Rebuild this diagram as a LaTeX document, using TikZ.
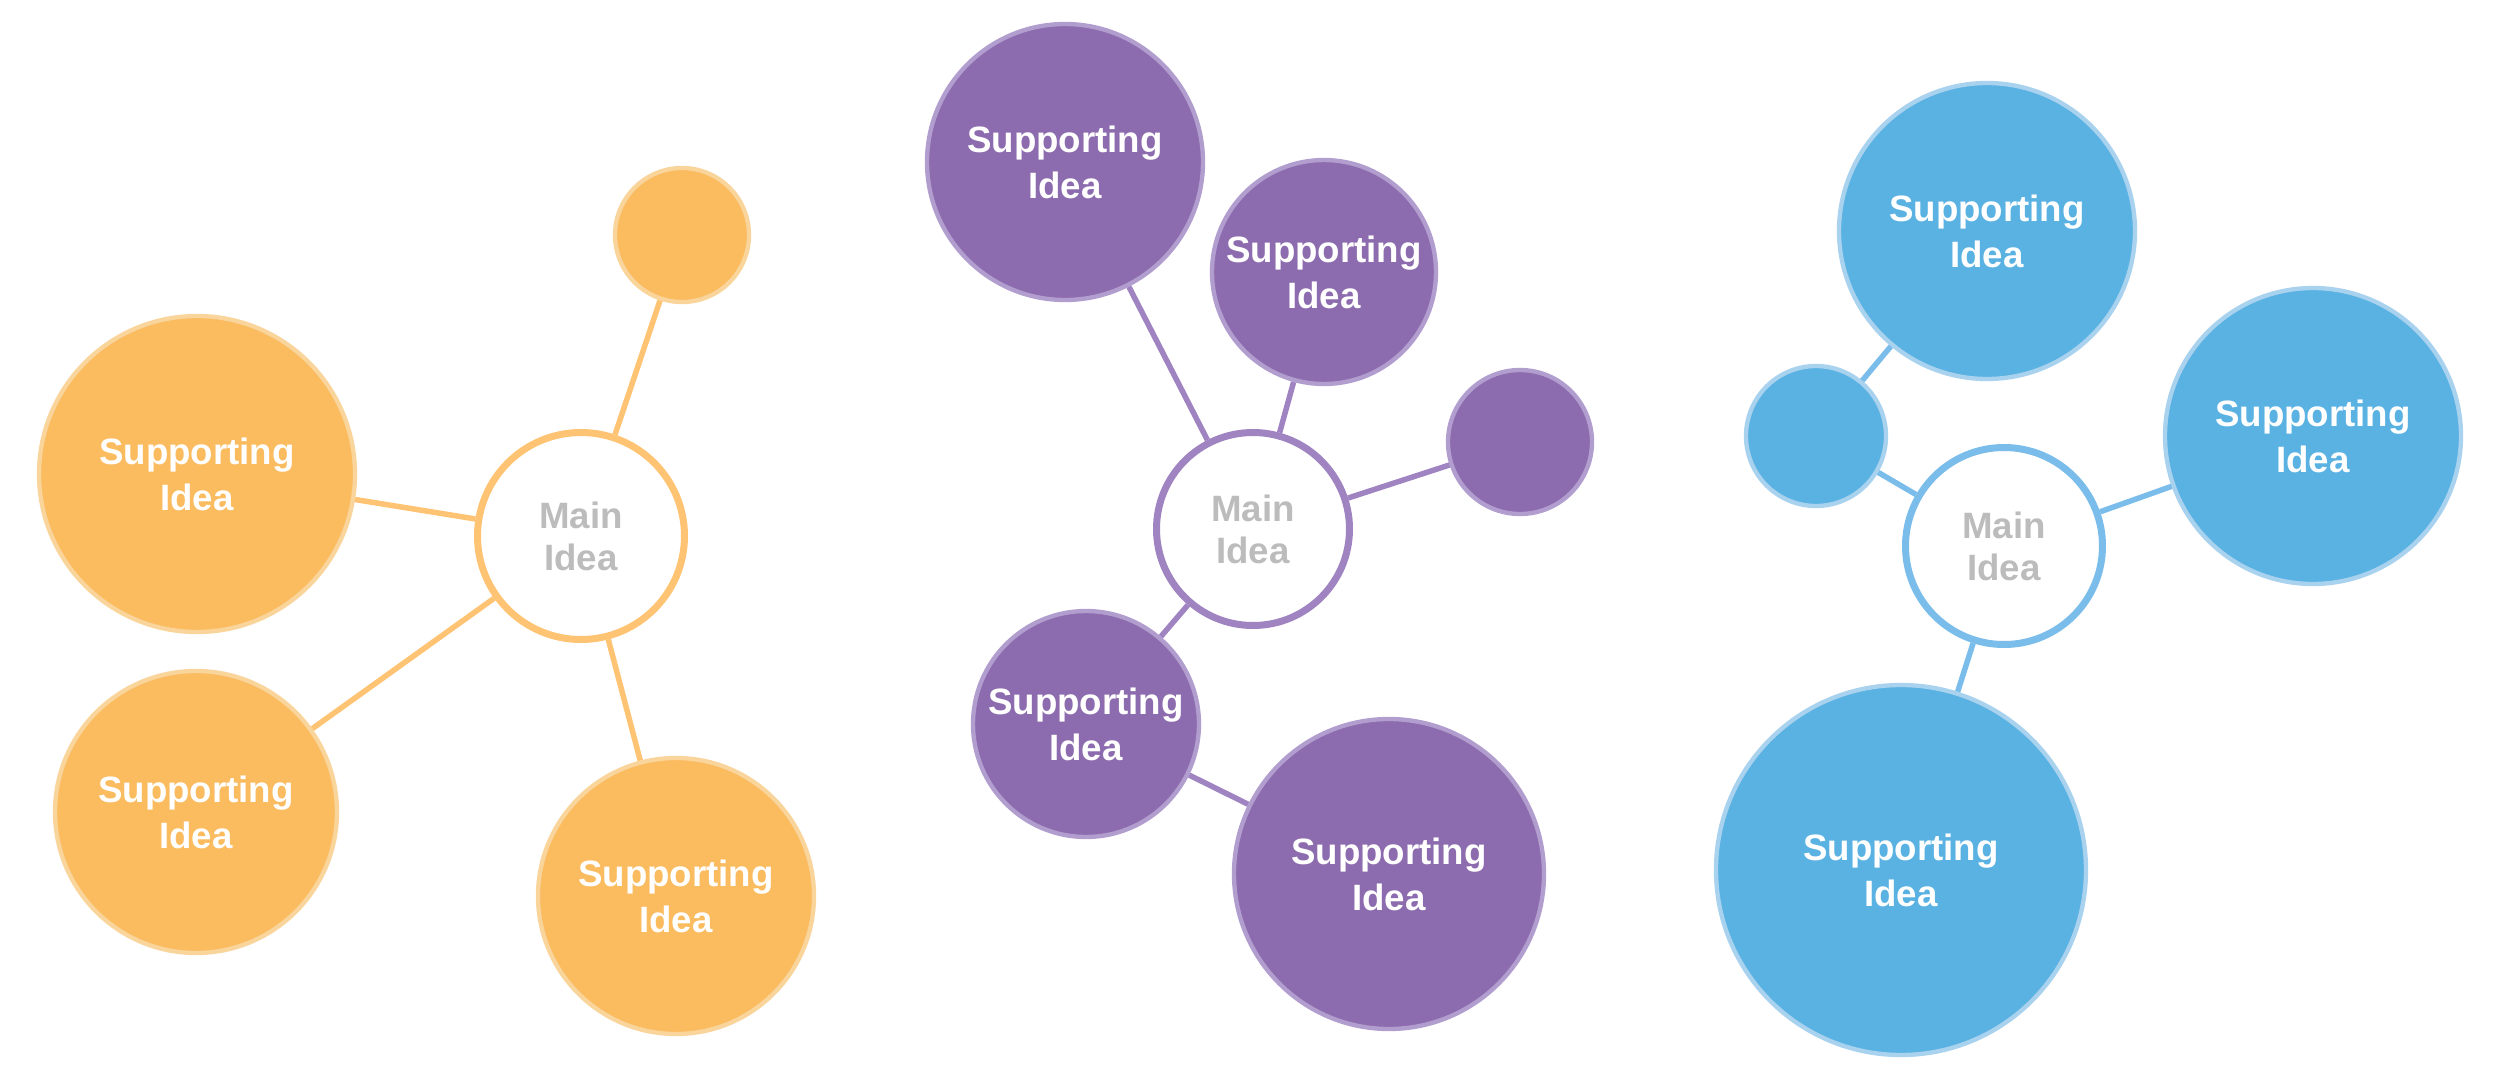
\documentclass[tikz,border=0pt]{standalone}
\usepackage{fontspec}
\setmainfont{Liberation Sans}
\definecolor{orangefill}{HTML}{FBBB5F}
\definecolor{orangerim}{HTML}{F9D49B}
\definecolor{orangeline}{HTML}{FFC374}
\definecolor{purplefill}{HTML}{8C6CAE}
\definecolor{purplerim}{HTML}{B19ECF}
\definecolor{purpleline}{HTML}{A084C1}
\definecolor{bluefill}{HTML}{5AB2E3}
\definecolor{bluerim}{HTML}{A9D2EF}
\definecolor{blueline}{HTML}{7BBDEA}
\definecolor{maingray}{HTML}{BCBCBC}

\begin{document}
\begin{tikzpicture}[x=0.3pt,y=0.3pt,yscale=-1,xscale=1,
  idea/.style={circle, inner sep=0pt, align=center, text=white, line width=1.3pt,
    font=\fontsize{11}{13.8}\selectfont\bfseries},
  mainidea/.style={circle, inner sep=0pt, align=center, fill=white, text=maingray, line width=2.1pt,
    font=\fontsize{11}{12.6}\selectfont\bfseries},
  link/.style={line width=1.65pt}]

\useasboundingbox (0,0) rectangle (2500,1083);

% Orange Cluster
\node (10) [mainidea, draw=orangeline, minimum size=62.1pt] at (581,536) {Main\\Idea};
\node (11) [idea, fill=orangefill, draw=orangerim, minimum size=40.2pt] at (682,235) {};
\node (12) [idea, fill=orangefill, draw=orangerim, minimum size=94.8pt] at (197,474) {Supporting\\Idea};
\node (13) [idea, fill=orangefill, draw=orangerim, minimum size=84.6pt] at (196,812) {Supporting\\Idea};
\node (14) [idea, fill=orangefill, draw=orangerim, minimum size=82.8pt] at (676,896) {Supporting\\Idea};
\draw [link, orangeline] (10) -- (11) ;
\draw [link, orangeline] (10) -- (12) ;
\draw [link, orangeline] (10) -- (13) ;
\draw [link, orangeline] (10) -- (14) ;

% Purple Cluster
\node (20) [mainidea, draw=purpleline, minimum size=57.9pt] at (1253,529) {Main\\Idea};
\node (21) [idea, fill=purplefill, draw=purplerim, minimum size=82.8pt] at (1065,162) {Supporting\\Idea};
\node (22) [idea, fill=purplefill, draw=purplerim, minimum size=67.2pt] at (1324,272) {Supporting\\Idea};
\node (23) [idea, fill=purplefill, draw=purplerim, minimum size=43.2pt] at (1520,442) {};
\node (24) [idea, fill=purplefill, draw=purplerim, minimum size=67.8pt] at (1086,724) {Supporting\\Idea};
\node (25) [idea, fill=purplefill, draw=purplerim, minimum size=93pt]   at (1389,874) {Supporting\\Idea};
\draw [link, purpleline] (20) -- (21) ;
\draw [link, purpleline] (20) -- (22) ;
\draw [link, purpleline] (20) -- (23) ;
\draw [link, purpleline] (20) -- (24) ;
\draw [link, purpleline] (24) -- (25) ;

% Blue Cluster
\node (30) [mainidea, draw=blueline, minimum size=59.1pt] at (2004,546) {Main\\Idea};
\node (31) [idea, fill=bluefill, draw=bluerim, minimum size=88.8pt] at (1987,231) {Supporting\\Idea};
\node (32) [idea, fill=bluefill, draw=bluerim, minimum size=42pt]   at (1816,436) {};
\node (33) [idea, fill=bluefill, draw=bluerim, minimum size=88.8pt] at (2313,436) {Supporting\\Idea};
\node (34) [idea, fill=bluefill, draw=bluerim, minimum size=111pt]  at (1901,870) {Supporting\\Idea};
\draw [link, blueline] (32) -- (31) ;
\draw [link, blueline] (30) -- (32) ;
\draw [link, blueline] (30) -- (33) ;
\draw [link, blueline] (30) -- (34) ;

\end{tikzpicture}
\end{document}
